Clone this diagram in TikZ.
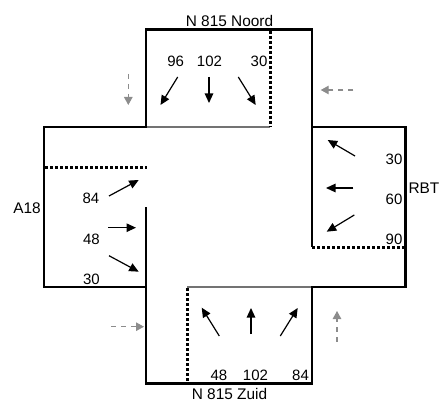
\documentclass[tikz,border=0pt]{standalone}
\usepackage{fontspec}
\setmainfont{Liberation Sans}
\usetikzlibrary{arrows.meta}
\tikzset{
  wall/.style={line width=2.2pt,line cap=rect,line join=miter},
  thinwall/.style={line width=1.3pt},
  grayline/.style={line width=1.3pt,draw=black!55},
  dotline/.style={line width=2.2pt,dash pattern=on 2.6pt off 2.4pt},
  flow/.style={line width=1.2pt,-{Triangle[length=9.5pt,width=8.5pt]}},
  ghost/.style={line width=1.1pt,draw=black!45,dash pattern=on 5pt off 5pt,-{Triangle[length=8pt,width=8.5pt,fill=black!45]}},
  lbl/.style={inner sep=0pt,font=\fontsize{15}{16}\selectfont},
  road/.style={lbl,font=\fontsize{15.4}{16}\selectfont},
}
\begin{document}
\begin{tikzpicture}[x=1pt,y=-1pt]
\useasboundingbox (0,0) rectangle (439,401);
% outer walls
\draw[wall] (44,127) -- (146,127) -- (146,29.5) -- (312,29.5) -- (312,127) -- (405.5,127) -- (405.5,287) -- (312,287) -- (312,383.5) -- (146,383.5) -- (146,287) -- (44,287) -- cycle;
\fill[white] (147.2,128.2) rectangle (310.8,285.8);
\draw[wall] (312,127) -- (405.5,127);
% inner lines
\draw[grayline] (147,127) -- (270,127);
\draw[grayline] (187,287) -- (311,287);
\draw[thinwall] (312,127) -- (312,247);
\draw[thinwall] (146,207) -- (146,287);
\draw[dotline] (270.5,31) -- (270.5,127);
\draw[dotline] (312,247.5) -- (405,247.5);
\draw[dotline] (45,167.5) -- (147,167.5);
\draw[dotline] (187.5,288) -- (187.5,383);
% flow arrows
\coordinate (a1s) at (177.7,77); \coordinate (a1e) at (160.5,105);
\coordinate (a2s) at (209,77); \coordinate (a2e) at (209,103);
\coordinate (a3s) at (238.3,77); \coordinate (a3e) at (255.7,105);
\coordinate (b1s) at (355,156); \coordinate (b1e) at (327.7,140);
\coordinate (b2s) at (353.3,188); \coordinate (b2e) at (326,188);
\coordinate (b3s) at (354.3,215); \coordinate (b3e) at (326.7,231.7);
\coordinate (c1s) at (109,196); \coordinate (c1e) at (138.7,180);
\coordinate (c2s) at (108,227.7); \coordinate (c2e) at (136,227.7);
\coordinate (c3s) at (109,255.7); \coordinate (c3e) at (138.7,271.7);
\coordinate (d1s) at (219.3,336); \coordinate (d1e) at (201.7,307.7);
\coordinate (d2s) at (251,334); \coordinate (d2e) at (251,308);
\coordinate (d3s) at (280.3,336); \coordinate (d3e) at (297.7,308);
\foreach \n in {a1,a2,a3,b1,b2,b3,c1,c2,c3,d1,d2,d3}
  \draw[flow] (\n s) -- (\n e);
% direction arrows
\coordinate (g1s) at (128.3,74); \coordinate (g1e) at (128.3,105);
\coordinate (g2s) at (353.3,90); \coordinate (g2e) at (320.7,90);
\coordinate (g3s) at (111,326.7); \coordinate (g3e) at (144,326.7);
\coordinate (g4s) at (337,341.7); \coordinate (g4e) at (337,311);
\foreach \n in {g1,g2,g3,g4}
  \draw[ghost] (\n s) -- (\n e);
% labels
\node[road] (noord) at (229.5,20.5) {N 815 Noord};
\node[road] (zuid) at (229.5,393.5) {N 815 Zuid};
\node[road] (rbt) at (424,188) {RBT};
\node[road] (a18) at (27,208) {A18};
\node[lbl] (t96) at (175.7,61) {96};
\node[lbl] (t102) at (209.5,61) {102};
\node[lbl] (t30) at (259,61) {30};
\node[lbl] (r30) at (394,159) {30};
\node[lbl] (r60) at (394,199) {60};
\node[lbl] (r90) at (394,239) {90};
\node[lbl] (l84) at (91,198) {84};
\node[lbl] (l48) at (91.5,239) {48};
\node[lbl] (l30) at (91.5,279) {30};
\node[lbl] (b48) at (219,375) {48};
\node[lbl] (b102) at (255.5,375) {102};
\node[lbl] (b84) at (300.5,375) {84};
\end{tikzpicture}
\end{document}
